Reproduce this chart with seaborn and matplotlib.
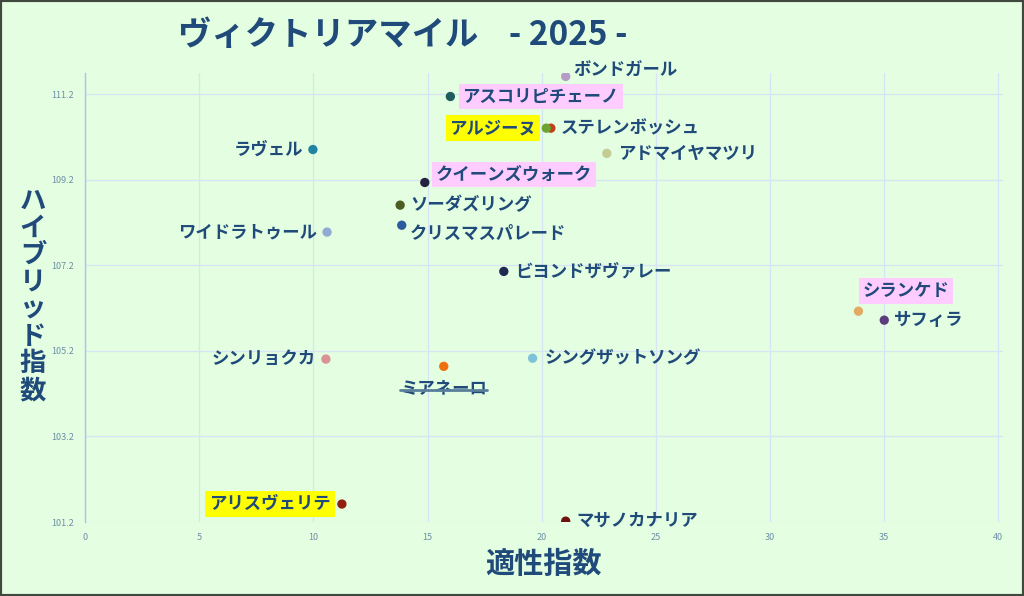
import matplotlib
matplotlib.use("Agg")
import matplotlib.pyplot as plt
import seaborn as sns
import pandas as pd

names = ["ボンドガール", "アスコリピチェーノ", "ステレンボッシュ", "アルジーヌ", "アドマイヤマツリ",
         "ラヴェル", "クイーンズウォーク", "ソーダズリング", "クリスマスパレード", "ワイドラトゥール",
         "ビヨンドザヴァレー", "シランケド", "サフィラ", "シンリョクカ", "シングザットソング",
         "ミアネーロ", "アリスヴェリテ", "マサノカナリア"]
aptitude = [21.05, 16.0, 20.4, 20.2, 22.85, 9.98, 14.88, 13.8, 13.87, 10.6,
            18.34, 33.87, 35.0, 10.55, 19.6, 15.71, 11.25, 21.05]
hybrid = [111.62, 111.15, 110.41, 110.41, 109.82, 109.91, 109.14, 108.61, 108.14, 107.98,
          107.06, 106.13, 105.92, 105.01, 105.03, 104.84, 101.62, 101.22]
colors = ["#B49CC4", "#1F5C60", "#C04018", "#6EA232", "#C4CC94", "#2383A3", "#23233F",
          "#4D5C22", "#2B5C9C", "#93ABD3", "#1E2850", "#E2AA62", "#5C3C7C", "#D99393",
          "#7EC2DA", "#F07010", "#92200E", "#6E1010"]
x_ticks = [0, 5, 10, 15, 20, 25, 30, 35, 40]
y_ticks = [101.2, 103.2, 105.2, 107.2, 109.2, 111.2]

# label placement: (dx px, dy px, ha, highlight)
label_pos = {
    "ボンドガール": (8, 6, "left", None),
    "アスコリピチェーノ": (12, 0, "left", "#FFCCFF"),
    "アルジーヌ": (-10, 0, "right", "#FFFF00"),
    "ステレンボッシュ": (10, 0, "left", None),
    "アドマイヤマツリ": (11, 0, "left", None),
    "ラヴェル": (-10, 0, "right", None),
    "クイーンズウォーク": (11, 8, "left", "#FFCCFF"),
    "ソーダズリング": (10, 0, "left", None),
    "クリスマスパレード": (8, -9, "left", None),
    "ワイドラトゥール": (-10, 0, "right", None),
    "ビヨンドザヴァレー": (11, 0, "left", None),
    "シランケド": (4, 20, "left", "#FFCCFF"),
    "サフィラ": (10, 0, "left", None),
    "シンリョクカ": (-10, 0, "right", None),
    "シングザットソング": (12, 0, "left", None),
    "ミアネーロ": (0, -22, "center", None),
    "アリスヴェリテ": (-11, 0, "right", "#FFFF00"),
    "マサノカナリア": (11, 0, "left", None),
}

sns.set_theme(style="white")
plt.rcParams['font.family'] = ['Noto Sans CJK JP', 'DejaVu Sans']

BG = "#E3FEE0"
TXT = "#1F4A7A"
fig = plt.figure(figsize=(10.24, 5.96), dpi=100, facecolor=BG)
ax = fig.add_axes([85/1024, 1 - 522/596, (1003-85)/1024, (522-73)/596])
ax.set_facecolor(BG)

df = pd.DataFrame({"name": names, "x": aptitude, "y": hybrid})
sns.scatterplot(data=df, x="x", y="y", hue="name", palette=colors, s=45,
                edgecolor="none", legend=False, ax=ax, zorder=3)

ax.set_xlim(0, 40.2)
ax.set_ylim(101.2, 111.7)
ax.set_xticks(x_ticks)
ax.set_yticks(y_ticks)
ax.set_xticklabels([str(t) for t in x_ticks])
ax.set_yticklabels([f"{t:.1f}" for t in y_ticks])
ax.tick_params(axis="both", labelsize=6.5, colors="#6F8FA8", length=0, pad=8)
ax.grid(True, color="#D6E4F6", linewidth=0.9)
ax.set_axisbelow(True)
for s in ["top", "right", "bottom"]:
    ax.spines[s].set_visible(False)
ax.spines["left"].set_color("#A8C4F0")
ax.spines["left"].set_linewidth(1.0)
ax.set_xlabel("")
ax.set_ylabel("")

for n, xv, yv in zip(names, aptitude, hybrid):
    dx, dy, ha, hl = label_pos[n]
    kw = {}
    if hl:
        kw["bbox"] = dict(boxstyle="square,pad=0.22", facecolor=hl, edgecolor="none")
    t = ax.annotate(n, (xv, yv), xytext=(dx * 0.72, dy * 0.72), textcoords="offset points",
                    ha=ha, va="center", fontsize=12.5, fontweight="bold", color=TXT,
                    zorder=4, **kw)
    if n == "ミアネーロ":
        fig.canvas.draw()
        bb = t.get_window_extent()
        ymid = (bb.y0 + bb.y1) / 2 - 2
        W = fig.dpi * fig.get_figwidth()
        H = fig.dpi * fig.get_figheight()
        fig.add_artist(plt.Line2D([bb.x0 / W, bb.x1 / W], [ymid / H, ymid / H],
                                  transform=fig.transFigure, color="#5A7F9A",
                                  linewidth=2, zorder=5))

fig.text(178/1024, 1 - 35/596, "ヴィクトリアマイル    - 2025 -", ha="left", va="center",
         fontsize=24, fontweight="bold", color=TXT)
fig.text(543/1024, 1 - 564/596, "適性指数", ha="center", va="center",
         fontsize=21, fontweight="bold", color=TXT)
fig.text(33/1024, 1 - 296/596, "\n".join("ハイブリッド指数"), ha="center", va="center",
         fontsize=19, fontweight="bold", color=TXT, linespacing=1.0)

border = plt.Rectangle((0, 0), 1, 1, transform=fig.transFigure, fill=False,
                       edgecolor="#404840", linewidth=3)
fig.add_artist(border)

fig.savefig("out.png", dpi=100, facecolor=BG)
